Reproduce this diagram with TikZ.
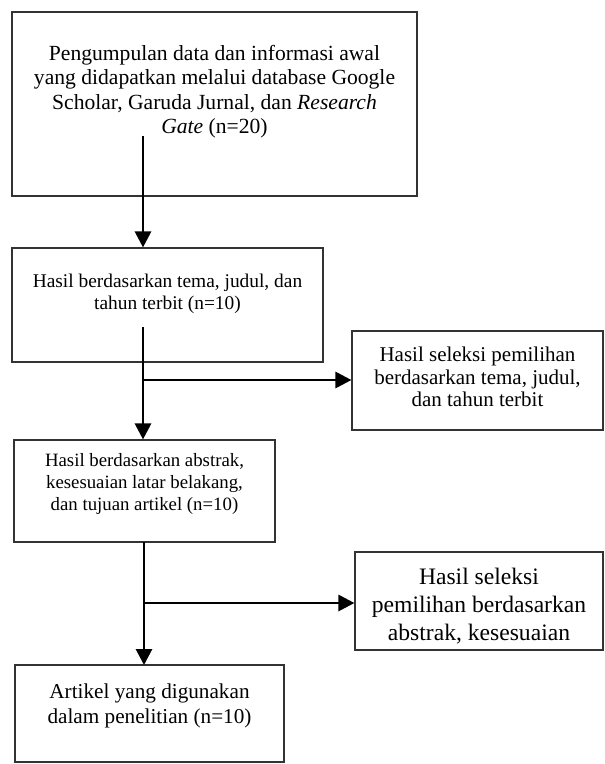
\documentclass[tikz,border=0pt]{standalone}
\usepackage{fontspec}
\setmainfont{Liberation Serif}
\usetikzlibrary{arrows.meta}

\tikzset{
  box/.style={draw=black!80,line width=1.1pt,rectangle,inner sep=0pt},
  txt/.style={align=center,inner sep=0pt},
  arr/.style={line width=2.9pt,-{Triangle[length=16pt,width=16pt]}}
}

\begin{document}
\begin{tikzpicture}[x=1pt,y=-1pt]
  \useasboundingbox (0,0) rectangle (605,764);

  % boxes
  \node[box,minimum width=405,minimum height=184] (b1) at (214.5,104) {};
  \node[box,minimum width=311,minimum height=114] (b2) at (167.5,305) {};
  \node[box,minimum width=251,minimum height=99]  (r1) at (477.5,380.5) {};
  \node[box,minimum width=261,minimum height=102] (b3) at (144.5,491) {};
  \node[box,minimum width=248,minimum height=98]  (r2) at (479,601) {};
  \node[box,minimum width=269,minimum height=97]  (b4) at (149.5,713.5) {};

  % texts
  \node[txt,font=\fontsize{21.6}{24.5}\selectfont] (t1) at (214.5,91.5)
    {Pengumpulan data dan informasi awal\\yang didapatkan melalui database Google\\Scholar, Garuda Jurnal, dan \textit{Research}\\\textit{Gate} (n=20)};
  \node[txt,font=\fontsize{19.4}{21.5}\selectfont] (t2) at (167.5,294)
    {Hasil berdasarkan tema, judul, dan\\tahun terbit (n=10)};
  \node[txt,font=\fontsize{21}{22.5}\selectfont] (t3) at (477.5,377)
    {Hasil seleksi pemilihan\\berdasarkan tema, judul,\\dan tahun terbit};
  \node[txt,font=\fontsize{18.8}{22}\selectfont] (t4) at (144.5,484)
    {Hasil berdasarkan abstrak,\\kesesuaian latar belakang,\\dan tujuan artikel (n=10)};
  \node[txt,font=\fontsize{23.6}{28}\selectfont] (t5) at (479,606)
    {Hasil seleksi\\pemilihan berdasarkan\\abstrak, kesesuaian};
  \node[txt,font=\fontsize{21.2}{25}\selectfont] (t6) at (149.5,706)
    {Artikel yang digunakan\\dalam penelitian (n=10)};

  % connectors
  \coordinate (s1) at (143,136);
  \coordinate (s2) at (143,327);
  \coordinate (k1) at (143,380);
  \coordinate (k2) at (144,603);

  \draw[arr] (s1) -- (s1 |- b2.north);
  \draw[arr] (s2) -- (s2 |- b3.north);
  \draw[arr] (k1) -- (k1 -| r1.west);
  \draw[arr] (144,542) -- (144,665);
  \draw[arr] (k2) -- (k2 -| r2.west);
\end{tikzpicture}
\end{document}
